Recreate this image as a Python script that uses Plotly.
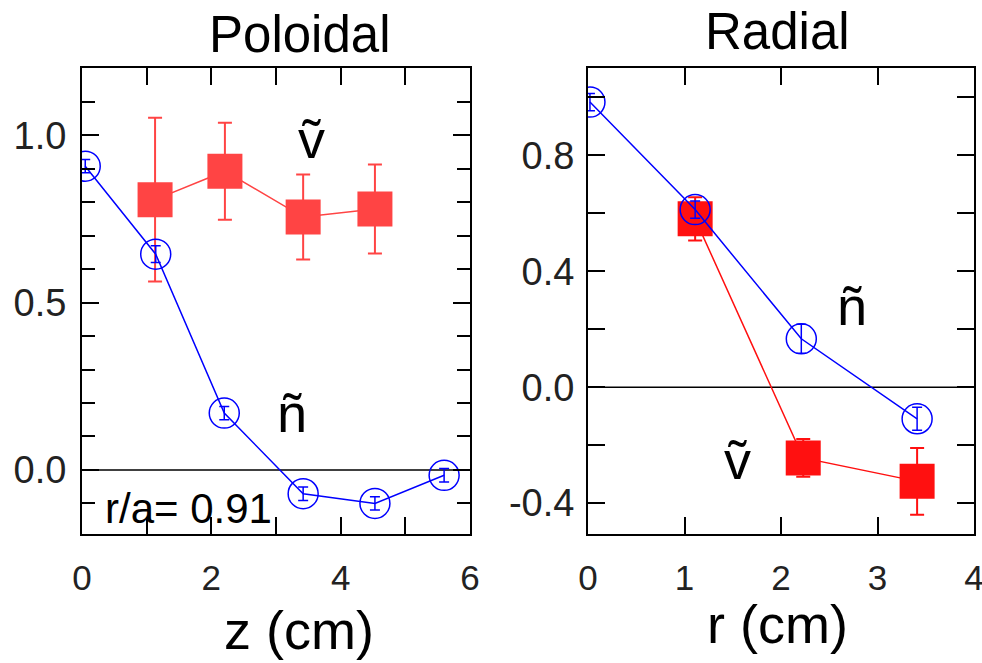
import plotly.graph_objects as go

# Poloidal panel (left)
z_n = [0.05, 1.14, 2.2, 3.42, 4.53, 5.6]
n_pol = [0.908, 0.645, 0.17, -0.071, -0.10, -0.016]
n_pol_err = [0.02, 0.025, 0.02, 0.02, 0.02, 0.02]
z_v = [1.13, 2.21, 3.42, 4.53]
v_pol = [0.808, 0.893, 0.756, 0.78]
v_pol_err = [0.245, 0.145, 0.127, 0.133]

# Radial panel (right)
r_n = [0.02, 1.11, 2.21, 3.41]
n_rad = [0.984, 0.613, 0.167, -0.109]
n_rad_err = [0.03, 0.03, 0.05, 0.04]
r_v = [1.11, 2.23, 3.41]
v_rad = [0.581, -0.244, -0.325]
v_rad_err = [0.075, 0.065, 0.115]

FONT = "Liberation Sans"
BLUE = "#0000ff"
RED_L = "#ff4444"
RED_R = "#ff1010"

fig = go.Figure()

def add_pair(xn, yn, en, xv, yv, ev, xa, ya, red):
    fig.add_trace(go.Scatter(
        x=xv, y=yv, mode="lines+markers", xaxis=xa, yaxis=ya,
        line=dict(color=red, width=1.5),
        marker=dict(symbol="square", size=35, color=red),
        error_y=dict(type="data", array=ev, color=red, thickness=2, width=7),
        showlegend=False))
    fig.add_trace(go.Scatter(
        x=xn, y=yn, mode="lines+markers", xaxis=xa, yaxis=ya,
        line=dict(color=BLUE, width=1.5),
        marker=dict(symbol="circle-open", size=30, color=BLUE, line=dict(width=1.5, color=BLUE)),
        error_y=dict(type="data", array=en, color=BLUE, thickness=1.5, width=5),
        showlegend=False))

add_pair(z_n, n_pol, n_pol_err, z_v, v_pol, v_pol_err, "x", "y", RED_L)
add_pair(r_n, n_rad, n_rad_err, r_v, v_rad, v_rad_err, "x2", "y2", RED_R)

axis_common = dict(
    showgrid=False, showline=True, linecolor="black", linewidth=2, mirror="ticks",
    ticks="inside", ticklen=17, tickwidth=1.5, tickcolor="black",
    zeroline=False, automargin=False, ticklabeloverflow="allow",
)
xfont = dict(family=FONT, size=35, color="#222")
yfont = dict(family=FONT, size=38, color="#222")

fig.update_layout(
    width=982, height=663,
    margin=dict(l=0, r=0, t=0, b=0),
    paper_bgcolor="white", plot_bgcolor="white",
    font=dict(family=FONT, color="black"),
    xaxis=dict(domain=[0.0835, 0.4786], range=[0, 6], tickvals=[0, 2, 4, 6],
               minor=dict(tickvals=[1, 3, 5], ticks="inside", ticklen=17, tickcolor="black", tickwidth=1.5),
               tickfont=xfont, ticklabelstandoff=12,
               anchor="y", **axis_common),
    yaxis=dict(domain=[0.1953, 0.8967], range=[-0.19, 1.2], tickvals=[0, 0.5, 1.0],
               ticktext=["0.0", "0.5", "1.0"], tickfont=yfont, ticklabelstandoff=6,
               minor=dict(dtick=0.1, ticks="inside", ticklen=13, tickcolor="black", tickwidth=1.5),
               anchor="x", **axis_common),
    xaxis2=dict(domain=[0.5988, 0.9919], range=[0, 4], tickvals=[0, 1, 2, 3, 4],
                tickfont=xfont, ticklabelstandoff=12,
                anchor="y2", **axis_common),
    yaxis2=dict(domain=[0.1953, 0.8967], range=[-0.505, 1.10], tickvals=[-0.4, 0, 0.4, 0.8],
                ticktext=["-0.4", "0.0", "0.4", "0.8"], tickfont=yfont, ticklabelstandoff=4,
                minor=dict(dtick=0.2, tick0=0, ticks="inside", ticklen=17, tickcolor="black", tickwidth=1.5),
                anchor="x2", **axis_common),
)

# zero reference lines
fig.add_shape(type="line", xref="x domain", yref="y", x0=0, x1=1, y0=0, y1=0,
              line=dict(color="black", width=1.5), layer="below")
fig.add_shape(type="line", xref="x2 domain", yref="y2", x0=0, x1=1, y0=0, y1=0,
              line=dict(color="black", width=1.5), layer="below")

ann = [
    dict(text="Poloidal", x=0.56, y=1.0, xref="x domain", yref="paper", xanchor="center", yanchor="middle", yshift=-34, size=51),
    dict(text="Radial", x=0.49, y=1.0, xref="x2 domain", yref="paper", xanchor="center", yanchor="middle", yshift=-31, size=51),
    dict(text="z (cm)", x=0.56, y=0.0, xref="x domain", yref="paper", xanchor="center", yanchor="middle", yshift=33, size=54),
    dict(text="r (cm)", x=0.49, y=0.0, xref="x2 domain", yref="paper", xanchor="center", yanchor="middle", yshift=39, size=54),
    dict(text="ṽ", x=3.55, y=0.99, xref="x", yref="y", xanchor="center", yanchor="middle", size=54),
    dict(text="ñ", x=3.25, y=0.17, xref="x", yref="y", xanchor="center", yanchor="middle", size=54),
    dict(text="r/a= 0.91", x=0.32, y=-0.115, xref="x", yref="y", xanchor="left", yanchor="middle", size=42),
    dict(text="ñ", x=2.74, y=0.28, xref="x2", yref="y2", xanchor="center", yanchor="middle", size=54),
    dict(text="ṽ", x=1.55, y=-0.25, xref="x2", yref="y2", xanchor="center", yanchor="middle", size=54),
]
for a in ann:
    size = a.pop("size")
    fig.add_annotation(showarrow=False, font=dict(family=FONT, size=size, color="black"), **a)

fig.write_html("out.html")
